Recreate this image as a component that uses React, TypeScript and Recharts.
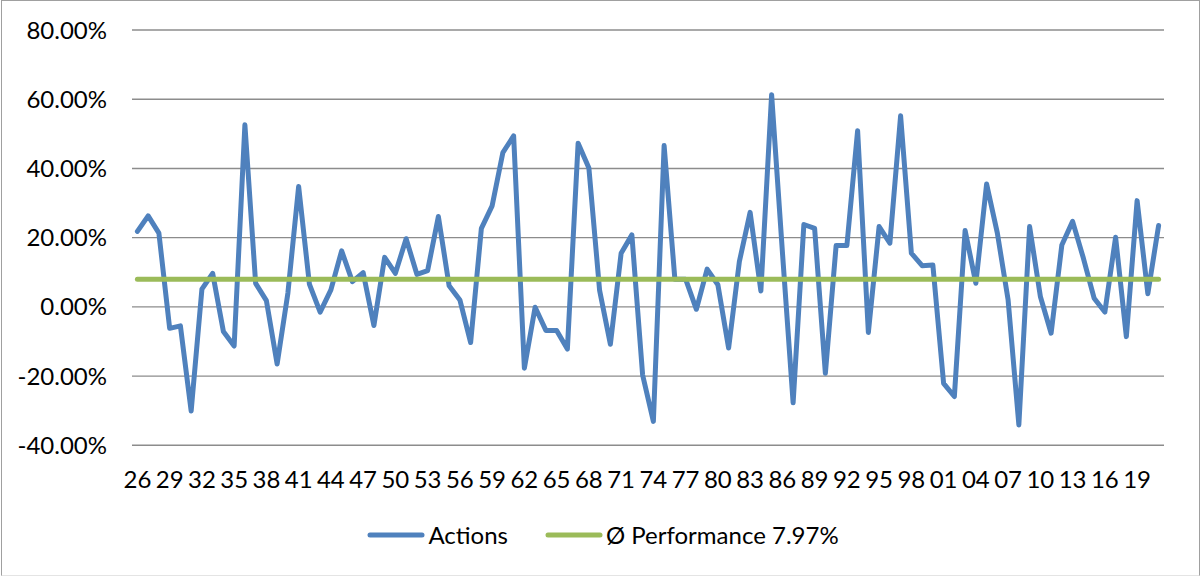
import { CartesianGrid, Legend, Line, LineChart, XAxis, YAxis } from "recharts";

const BLUE = "#4F81BD";
const GREEN = "#9BBB59";
const GRID = "#8C8C8C";
const FONT = "Lato, 'Open Sans', sans-serif";

const YEARS = [
  1926, 1927, 1928, 1929, 1930, 1931, 1932, 1933, 1934, 1935, 1936, 1937, 1938, 1939, 1940, 1941,
  1942, 1943, 1944, 1945, 1946, 1947, 1948, 1949, 1950, 1951, 1952, 1953, 1954, 1955, 1956, 1957,
  1958, 1959, 1960, 1961, 1962, 1963, 1964, 1965, 1966, 1967, 1968, 1969, 1970, 1971, 1972, 1973,
  1974, 1975, 1976, 1977, 1978, 1979, 1980, 1981, 1982, 1983, 1984, 1985, 1986, 1987, 1988, 1989,
  1990, 1991, 1992, 1993, 1994, 1995, 1996, 1997, 1998, 1999, 2000, 2001, 2002, 2003, 2004, 2005,
  2006, 2007, 2008, 2009, 2010, 2011, 2012, 2013, 2014, 2015, 2016, 2017, 2018, 2019, 2020, 2021,
];

// yearly return in percent
const ACTIONS = [
  21.8, 26.3, 21.3, -6.2, -5.5, -30.1, 5.1, 9.7, -7.1, -11.3, 52.6, 6.8, 1.8, -16.5, 4.0, 34.8,
  6.6, -1.5, 4.9, 16.2, 7.3, 9.9, -5.4, 14.3, 9.7, 19.7, 9.4, 10.5, 26.1, 6.1, 2.0, -10.3,
  22.7, 29.2, 44.6, 49.4, -17.7, -0.1, -6.8, -6.8, -12.2, 47.3, 40.1, 4.7, -10.8, 15.5, 20.8, -19.7,
  -33.1, 46.6, 8.0, 8.0, -0.7, 10.9, 6.4, -11.9, 13.1, 27.3, 4.6, 61.3, 16.0, -27.7, 23.8, 22.7,
  -19.2, 17.7, 17.7, 50.9, -7.4, 23.2, 18.4, 55.2, 15.5, 11.9, 12.1, -22.1, -25.9, 22.1, 6.8, 35.5,
  21.3, 2.0, -34.1, 23.2, 3.0, -7.6, 17.9, 24.7, 14.1, 2.5, -1.5, 20.1, -8.6, 30.7, 3.8, 23.5,
];

const AVG_PERF = 7.97;
const Y_TICKS = [-40, -20, 0, 20, 40, 60, 80];

const data = YEARS.map((year, i) => ({ year, actions: ACTIONS[i], avg: AVG_PERF }));

function ChartLegend() {
  const items = [
    { label: "Actions", color: BLUE },
    { label: `Ø Performance ${AVG_PERF.toFixed(2)}%`, color: GREEN },
  ];
  return (
    <div style={{ display: "flex", justifyContent: "center", paddingTop: 25, paddingLeft: 42, gap: 37, fontFamily: FONT, fontSize: 24 }}>
      {items.map((it) => (
        <div key={it.label} style={{ display: "flex", alignItems: "center" }}>
          <svg width={58} height={8}>
            <line x1={3} y1={4} x2={55} y2={4} stroke={it.color} strokeWidth={5} strokeLinecap="round" />
          </svg>
          <span style={{ marginLeft: 3, color: "#000" }}>{it.label}</span>
        </div>
      ))}
    </div>
  );
}

export default function App() {
  return (
    <div style={{ position: "absolute", left: 0, top: 0, width: 1201, height: 576, background: "#fff" }}>
      <LineChart width={1201} height={576} data={data} margin={{ top: 30, right: 37, bottom: 0, left: 0 }}>
        <CartesianGrid vertical={false} stroke={GRID} strokeWidth={1.4} />
        <XAxis
          dataKey="year"
          interval={2}
          padding={{ left: 5.4, right: 5.4 }}
          axisLine={false}
          tickLine={false}
          tickSize={0}
          tickMargin={26}
          height={50}
          tick={{ fontSize: 24, fill: "#000", fontFamily: FONT }}
          tickFormatter={(y: number) => String(y).slice(2)}
        />
        <YAxis
          domain={[-40, 80]}
          ticks={Y_TICKS}
          axisLine={false}
          tickLine={false}
          tickSize={0}
          tickMargin={25}
          width={132}
          tick={{ fontSize: 24, fill: "#000", fontFamily: FONT }}
          tickFormatter={(v: number) => `${v.toFixed(2)}%`}
        />
        <Legend verticalAlign="bottom" height={80.7} content={() => <ChartLegend />} />
        <Line dataKey="actions" stroke={BLUE} strokeWidth={5} dot={false} isAnimationActive={false} strokeLinejoin="round" strokeLinecap="round" />
        <Line dataKey="avg" stroke={GREEN} strokeWidth={5} dot={false} isAnimationActive={false} strokeLinecap="round" />
      </LineChart>
      <div
        style={{
          position: "absolute",
          left: 1,
          top: 0,
          width: 1197,
          height: 574,
          borderTop: "1px solid #a0a0a0",
          borderLeft: "1px solid #a0a0a0",
          borderRight: "1px solid #a0a0a0",
          borderBottom: "1px solid #e4e4e4",
          pointerEvents: "none",
        }}
      />
    </div>
  );
}
